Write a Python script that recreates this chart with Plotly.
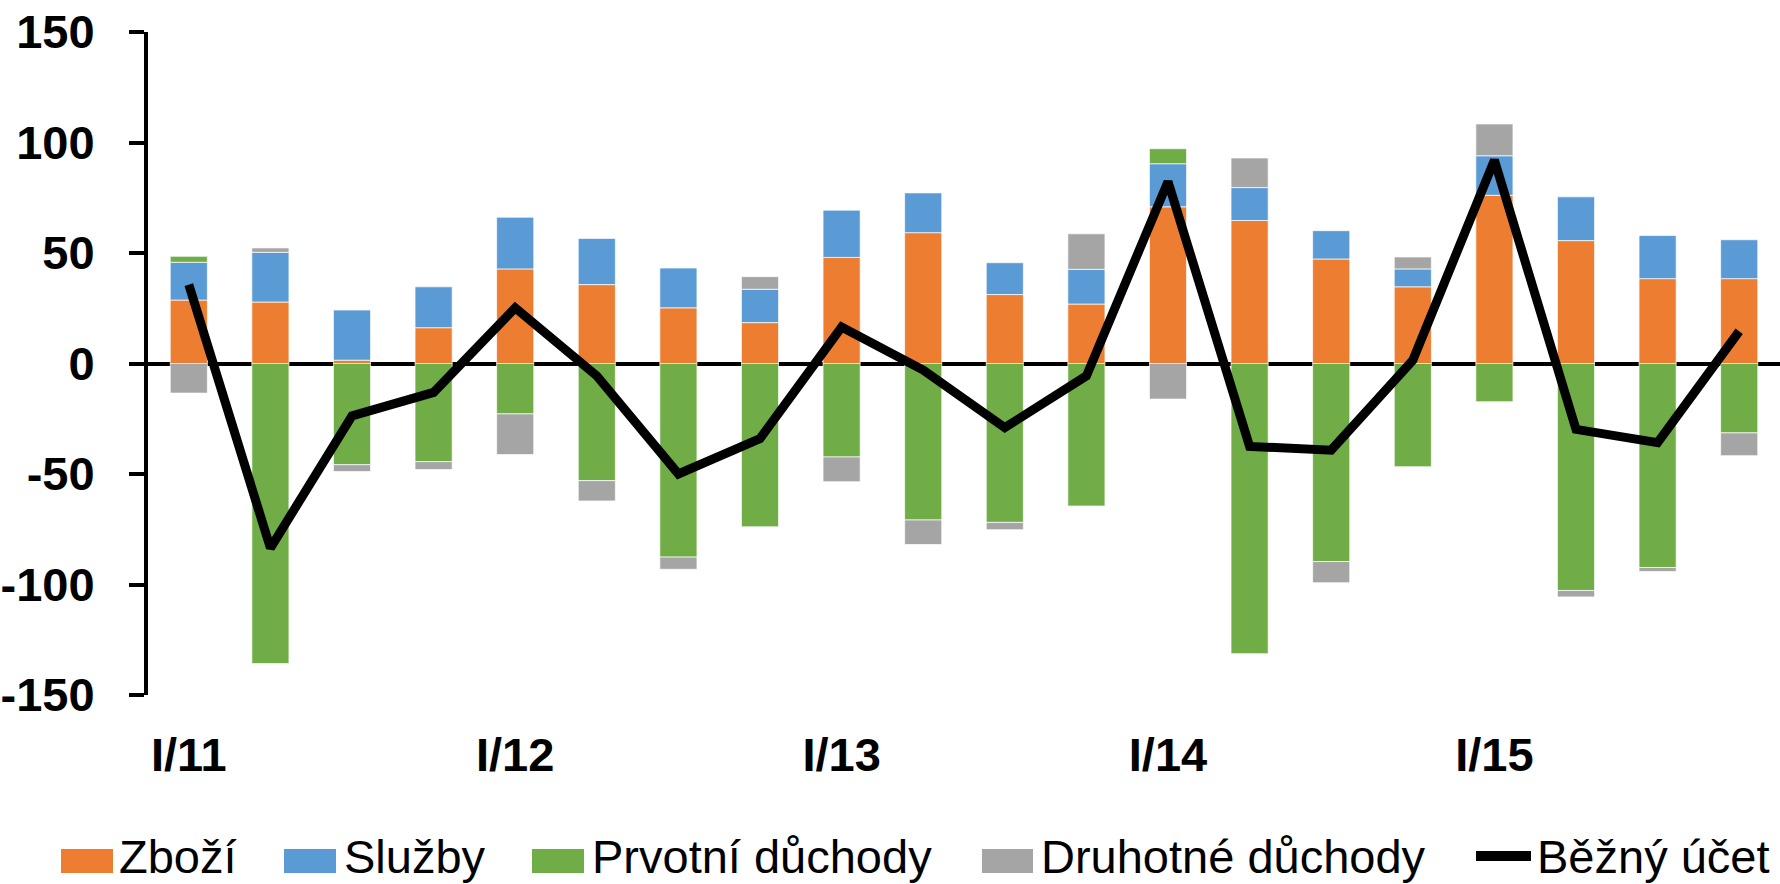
import plotly.graph_objects as go

# ---- data (billions CZK) ----
quarters = ["I/11", "II/11", "III/11", "IV/11",
            "I/12", "II/12", "III/12", "IV/12",
            "I/13", "II/13", "III/13", "IV/13",
            "I/14", "II/14", "III/14", "IV/14",
            "I/15", "II/15", "III/15", "IV/15"]
tick_labels = ["I/11", "I/12", "I/13", "I/14", "I/15"]

zbozi = [28.7, 27.8, 1.5, 16.2, 42.8, 35.7, 25.2, 18.5, 48.0, 59.2,
         31.2, 26.9, 70.9, 64.7, 47.3, 34.7, 76.1, 55.6, 38.4, 38.4]
sluzby = [17.1, 22.5, 22.7, 18.5, 23.4, 20.9, 18.0, 15.1, 21.4, 18.0,
          14.4, 15.7, 19.5, 14.9, 12.8, 8.1, 17.9, 19.8, 19.5, 17.6]
prvotni = [2.7, -135.8, -45.8, -44.4, -22.8, -53.0, -87.6, -73.9, -42.3, -70.8,
           -71.9, -64.5, 6.8, -131.3, -89.6, -46.7, -17.3, -102.7, -92.3, -31.4]
druhotne = [-13.4, 2.0, -3.1, -3.6, -18.4, -9.2, -5.5, 5.7, -11.2, -11.1,
            -3.3, 16.1, -16.1, 13.4, -9.6, 5.4, 14.4, -2.9, -1.8, -10.3]
bezny_ucet = [35.7, -83.5, -23.7, -13.1, 25.2, -5.6, -50.0, -34.0, 16.5, -3.0,
              -29.0, -5.6, 82.3, -37.5, -39.2, 1.5, 92.0, -29.8, -35.8, 14.6]

series_names = ["Zboží", "Služby", "Prvotní důchody", "Druhotné důchody", "Běžný účet"]
y_tick_vals = [-150, -100, -50, 0, 50, 100, 150]
y_tick_text = ["-150", "-100", "-50", "0", "50", "100", "150"]

# ---- style ----
colors = ["#ED7D31", "#5B9BD5", "#70AD47", "#A5A5A5", "#000000"]
FONT = "Arial, Liberation Sans, sans-serif"
W, H = 1780, 884
L, R, T, B = 148, 0, 32, 189
PW, PH = W - L - R, H - T - B

fig = go.Figure()
for name, vals, col in zip(series_names[:4], [zbozi, sluzby, prvotni, druhotne], colors[:4]):
    fig.add_trace(go.Bar(
        x=quarters, y=vals, name=name, marker_color=col,
        marker_line=dict(color="rgba(255,255,255,0.7)", width=1),
        showlegend=False,
    ))
fig.add_trace(go.Scatter(
    x=quarters, y=bezny_ucet, name=series_names[4], mode="lines",
    line=dict(color=colors[4], width=9), showlegend=False,
))


def px(x):
    return (x - L) / PW


def py(y):
    return (H - B - y) / PH


# manual legend (large swatches like the original)
shapes = []
annotations = []
TEXT_Y = 856
legend_items = [  # (swatch x0, swatch x1, text x)
    (61, 113, 118),
    (284, 336, 343),
    (532, 584, 591),
    (982, 1033, 1040),
]
for (x0, x1, tx), name, col in zip(legend_items, series_names[:4], colors[:4]):
    shapes.append(dict(type="rect", xref="paper", yref="paper",
                       x0=px(x0), x1=px(x1), y0=py(873), y1=py(849),
                       fillcolor=col, line=dict(width=0)))
    annotations.append(dict(xref="paper", yref="paper", x=px(tx), y=py(TEXT_Y),
                            xanchor="left", yanchor="middle", showarrow=False,
                            borderpad=0,
                            text=name, font=dict(family=FONT, size=47, color="black")))
shapes.append(dict(type="line", xref="paper", yref="paper",
                   x0=px(1476), x1=px(1531), y0=py(856), y1=py(856),
                   line=dict(color="black", width=10)))
annotations.append(dict(xref="paper", yref="paper", x=px(1536), y=py(TEXT_Y),
                        xanchor="left", yanchor="middle", showarrow=False,
                        borderpad=0,
                        text=series_names[4], font=dict(family=FONT, size=47, color="black")))

fig.update_layout(
    width=W, height=H,
    margin=dict(l=L, r=R, t=T, b=B, pad=0),
    barmode="relative", bargap=0.545,
    plot_bgcolor="white", paper_bgcolor="white",
    font=dict(family=FONT, color="black"),
    shapes=shapes, annotations=annotations,
    showlegend=False,
)
fig.update_xaxes(
    type="category", range=[-0.5, 19.5],
    tickmode="array", tickvals=tick_labels, ticktext=tick_labels,
    showline=False, showgrid=False, zeroline=False, ticks="",
    tickfont=dict(family=FONT, size=47, weight="bold", color="black"),
    ticklabelstandoff=28,
)
fig.update_yaxes(
    range=[-150, 150], tickmode="array", tickvals=y_tick_vals, ticktext=y_tick_text,
    showline=True, linecolor="black", linewidth=4,
    ticks="outside", ticklen=15, tickwidth=4, tickcolor="black",
    showgrid=False, zeroline=True, zerolinecolor="black", zerolinewidth=4,
    tickfont=dict(family=FONT, size=47, weight="bold", color="black"),
    ticklabelstandoff=25, layer="above traces",
)

fig.write_html("out.html", config={"displayModeBar": False},
               post_script="document.body.style.margin='0';")
